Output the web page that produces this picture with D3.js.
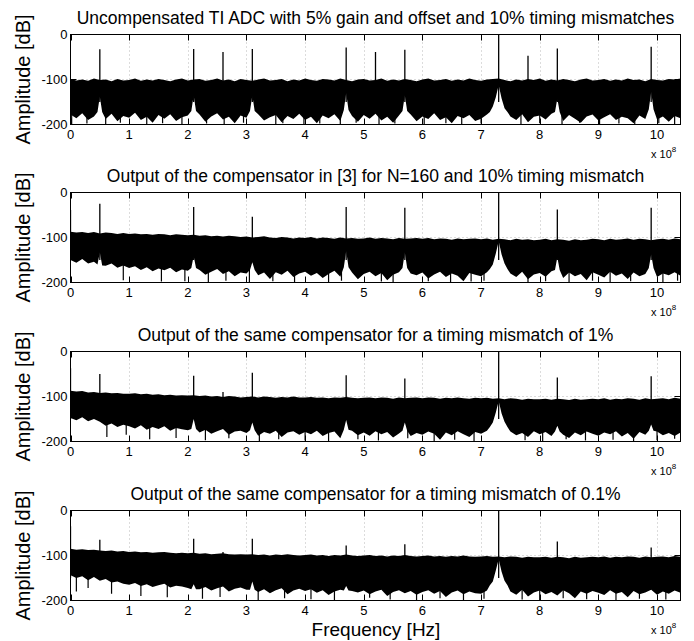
<!DOCTYPE html>
<html>
<head>
<meta charset="utf-8">
<script src="https://cdn.jsdelivr.net/npm/d3@7"></script>
<style>
  html, body { margin: 0; padding: 0; background: #fff; }
  svg { display: block; font-family: "Liberation Sans", Arial, Helvetica, sans-serif; }
</style>
</head>
<body>
<svg id="chart" width="694" height="641"></svg>
<script>
// Frequency axis in units of 1e8 Hz, amplitude in dB.
const xTicks = [0, 1, 2, 3, 4, 5, 6, 7, 8, 9, 10];
const yTicks = [0, -100, -200];
const xMax = 10.4;

const titles = [
  "Uncompensated TI ADC with 5% gain and offset and 10% timing mismatches",
  "Output of the compensator in [3] for N=160 and 10% timing mismatch",
  "Output of the same compensator for a timing mismatch of 1%",
  "Output of the same compensator for a timing mismatch of 0.1%"
];

// Upper edge of the noise floor, sampled every 0.1e8 Hz from 0 to 10.4e8 Hz.
const floorTop1 = [
  -99,-102,-100,-103,-98,-101,-100,-104,-99,-102,
  -101,-98,-103,-100,-102,-99,-101,-104,-100,-98,
  -102,-100,-99,-103,-101,-98,-102,-100,-104,-99,
  -101,-103,-100,-98,-102,-101,-99,-104,-100,-102,
  -98,-101,-103,-99,-100,-102,-98,-101,-104,-100,
  -99,-102,-101,-98,-103,-100,-102,-99,-101,-104,
  -100,-98,-102,-101,-99,-103,-100,-102,-98,-101,
  -103,-100,-99,-98,-101,-104,-100,-102,-99,-101,
  -98,-103,-100,-102,-99,-101,-104,-100,-98,-102,
  -101,-99,-103,-100,-102,-98,-101,-100,-104,-99,
  -101,-102,-99,-100,-98
];
const floorTop2 = [
  -87,-89,-88,-90,-88,-91,-89,-90,-92,-90,
  -92,-91,-93,-92,-94,-92,-93,-95,-93,-94,
  -95,-94,-96,-95,-97,-96,-98,-96,-97,-99,
  -98,-100,-99,-97,-100,-101,-99,-100,-102,-100,
  -101,-99,-102,-100,-101,-103,-100,-102,-101,-103,
  -102,-100,-103,-101,-102,-104,-101,-103,-102,-101,
  -103,-101,-104,-102,-103,-105,-102,-104,-103,-102,
  -104,-102,-105,-103,-104,-106,-103,-105,-104,-106,
  -105,-103,-106,-104,-105,-107,-104,-106,-105,-103,
  -104,-106,-103,-105,-104,-102,-105,-103,-104,-106,
  -104,-103,-105,-102,-104
];
const floorTop3 = [
  -87,-89,-88,-91,-90,-92,-91,-93,-92,-94,
  -94,-93,-95,-94,-96,-95,-97,-96,-98,-97,
  -98,-97,-99,-98,-100,-99,-101,-99,-100,-102,
  -101,-100,-102,-100,-101,-103,-101,-102,-100,-102,
  -102,-101,-103,-102,-104,-102,-103,-101,-103,-104,
  -103,-102,-104,-102,-103,-105,-102,-104,-103,-102,
  -104,-102,-103,-105,-103,-104,-102,-104,-105,-103,
  -104,-103,-105,-104,-106,-104,-105,-107,-105,-106,
  -106,-105,-107,-105,-106,-108,-105,-107,-106,-105,
  -106,-104,-107,-105,-106,-104,-105,-107,-104,-106,
  -105,-104,-106,-103,-105
];
const floorTop4 = [
  -85,-87,-86,-88,-87,-89,-90,-89,-91,-90,
  -92,-91,-93,-92,-94,-93,-92,-94,-95,-94,
  -95,-94,-96,-95,-97,-96,-95,-97,-98,-97,
  -98,-97,-99,-98,-100,-98,-99,-97,-99,-100,
  -99,-98,-100,-99,-101,-99,-100,-98,-100,-101,
  -100,-99,-101,-100,-102,-100,-101,-99,-101,-102,
  -101,-100,-102,-101,-103,-101,-102,-100,-102,-103,
  -102,-101,-103,-102,-104,-102,-103,-105,-103,-104,
  -104,-103,-105,-103,-104,-106,-103,-105,-104,-103,
  -104,-102,-105,-103,-104,-102,-103,-105,-102,-104,
  -103,-102,-104,-101,-103
];

// Lower edge of the noise floor on the same 0.1e8 Hz grid.
const floorBottom1 = [
  -178,-186,-175,-190,-182,-180,-188,-176,-193,-181,
  -185,-174,-190,-183,-196,-179,-187,-177,-192,-184,
  -180,-186,-178,-194,-182,-175,-189,-183,-197,-180,
  -185,-182,-177,-191,-184,-179,-195,-181,-188,-176,
  -190,-183,-197,-180,-186,-177,-192,-185,-181,-194,
  -179,-187,-176,-191,-183,-196,-180,-185,-178,-193,
  -182,-188,-175,-190,-184,-197,-181,-186,-179,-192,
  -187,-178,-160,-112,-164,-182,-190,-177,-195,-183,
  -180,-189,-176,-185,-192,-179,-187,-196,-182,-178,
  -191,-184,-177,-190,-183,-186,-197,-180,-188,-175,
  -189,-182,-194,-181,-186
];
const floorBottom2 = [
  -150,-156,-148,-158,-154,-160,-163,-158,-167,-162,
  -168,-164,-172,-166,-175,-169,-173,-167,-177,-171,
  -174,-179,-172,-183,-176,-170,-181,-175,-186,-178,
  -180,-175,-184,-178,-192,-177,-183,-174,-188,-180,
  -176,-185,-179,-190,-181,-174,-187,-182,-178,-193,
  -181,-176,-186,-179,-195,-183,-177,-189,-180,-184,
  -178,-191,-182,-176,-188,-180,-185,-197,-179,-183,
  -186,-177,-160,-108,-158,-180,-188,-176,-193,-182,
  -179,-187,-175,-184,-190,-178,-186,-181,-195,-177,
  -183,-189,-176,-185,-180,-192,-178,-186,-181,-175,
  -188,-180,-184,-177,-185
];
const floorBottom3 = [
  -148,-153,-146,-155,-150,-156,-165,-160,-168,-163,
  -166,-171,-164,-174,-168,-172,-166,-176,-170,-173,
  -175,-171,-180,-174,-183,-177,-172,-185,-178,-176,
  -181,-175,-187,-179,-183,-176,-190,-180,-177,-185,
  -179,-184,-176,-188,-181,-178,-193,-182,-176,-186,
  -180,-187,-177,-184,-179,-191,-182,-176,-188,-181,
  -185,-178,-183,-196,-180,-186,-177,-184,-190,-179,
  -183,-176,-158,-110,-156,-178,-186,-181,-190,-177,
  -184,-179,-188,-176,-185,-192,-180,-186,-178,-183,
  -187,-180,-184,-177,-189,-181,-194,-179,-185,-182,
  -178,-186,-181,-188,-180
];
const floorBottom4 = [
  -144,-150,-146,-155,-148,-156,-152,-160,-158,-163,
  -165,-161,-168,-164,-170,-166,-163,-171,-167,-169,
  -172,-168,-175,-170,-178,-173,-169,-180,-174,-171,
  -176,-172,-181,-175,-184,-177,-173,-186,-178,-174,
  -179,-175,-183,-177,-188,-180,-176,-185,-179,-182,
  -178,-186,-180,-176,-190,-181,-177,-184,-179,-187,
  -181,-177,-185,-179,-192,-182,-178,-186,-180,-184,
  -185,-178,-158,-108,-156,-180,-187,-176,-191,-182,
  -178,-186,-181,-189,-177,-184,-195,-180,-185,-179,
  -183,-188,-177,-185,-181,-193,-179,-186,-182,-176,
  -187,-180,-185,-178,-183
];

// Leakage skirts that lift the lower edge around the tones: [freq (1e8 Hz), dB].
const skirts1 = [
  [0.46,-172],[0.5,-138],[0.54,-172],
  [2.06,-170],[2.1,-135],[2.14,-170],
  [3.06,-170],[3.1,-135],[3.14,-170],
  [4.66,-168],[4.7,-130],[4.74,-168],
  [5.66,-170],[5.7,-135],[5.74,-170],
  [7.15,-172],[7.25,-140],[7.35,-142],[7.45,-172],
  [8.26,-172],[8.3,-142],[8.34,-172],
  [9.86,-166],[9.9,-127],[9.94,-166]
];
const skirts2 = [
  [0.46,-160],[0.5,-133],[0.54,-162],
  [2.06,-168],[2.1,-141],[2.14,-168],
  [3.06,-172],[3.1,-155],[3.14,-172],
  [4.66,-166],[4.7,-130],[4.74,-166],
  [5.66,-168],[5.7,-133],[5.74,-168],
  [7.15,-170],[7.25,-136],[7.35,-138],[7.45,-170],
  [8.26,-172],[8.3,-144],[8.34,-172],
  [9.86,-168],[9.9,-137],[9.94,-168]
];
const skirts3 = [
  [2.06,-172],[2.1,-150],[2.14,-172],
  [3.06,-175],[3.1,-158],[3.14,-175],
  [4.66,-174],[4.7,-152],[4.74,-174],
  [5.66,-176],[5.7,-158],[5.74,-176],
  [7.15,-168],[7.25,-136],[7.35,-138],[7.45,-168],
  [8.26,-178],[8.3,-165],[8.34,-178],
  [9.86,-176],[9.9,-162],[9.94,-176]
];
const skirts4 = [
  [2.06,-175],[2.1,-164],[2.14,-175],
  [3.06,-176],[3.1,-158],[3.14,-176],
  [4.66,-178],[4.7,-168],[4.74,-178],
  [7.15,-166],[7.25,-134],[7.35,-136],[7.45,-166]
];

// Deepest single bins reaching below the lower edge: [freq (1e8 Hz), dB].
const dips1 = [[0.02,-200],[0.28,-198],[0.6,-200],[0.85,-196],[1.3,-200],[1.57,-197],[1.9,-200],[2.32,-198],[2.62,-200],[2.95,-196],[3.5,-200],[3.62,-197],[3.98,-200],[4.25,-198],[4.6,-200],[4.87,-196],[5.26,-200],[5.53,-198],[6.03,-200],[6.4,-197],[6.67,-200],[7.0,-198],[7.68,-200],[8.0,-197],[8.38,-200],[8.68,-196],[9.02,-200],[9.35,-198],[9.62,-200],[10.03,-197],[10.3,-200]];
const dips2 = [[0.9,-195],[1.55,-198],[1.95,-197],[2.35,-200],[2.65,-196],[3.05,-200],[3.45,-197],[3.82,-199],[4.4,-200],[4.62,-196],[5.3,-198],[5.5,-200],[6.1,-197],[6.48,-200],[6.83,-198],[7.05,-196],[7.8,-200],[8.1,-197],[8.5,-199],[8.9,-196],[9.2,-200],[9.55,-197],[10.1,-199],[10.35,-196]];
const dips3 = [[0.62,-190],[0.95,-185],[1.35,-195],[1.8,-192],[2.3,-197],[2.7,-193],[3.22,-200],[3.55,-195],[4.0,-198],[4.4,-200],[4.9,-195],[5.25,-198],[5.75,-193],[6.2,-199],[6.55,-196],[6.88,-200],[7.75,-197],[8.05,-200],[8.45,-195],[8.78,-198],[9.25,-196],[9.6,-200],[10.0,-197],[10.3,-194]];
const dips4 = [[0.1,-180],[0.3,-172],[0.7,-185],[1.2,-190],[1.65,-193],[2.25,-196],[2.55,-192],[3.2,-200],[3.65,-195],[4.1,-197],[4.5,-199],[5.1,-194],[5.45,-198],[5.9,-200],[6.3,-195],[6.7,-199],[7.05,-196],[7.7,-198],[8.0,-200],[8.4,-195],[8.8,-197],[9.3,-199],[9.7,-196],[10.15,-198]];

// Tones and mismatch spurs: [freq (1e8 Hz), peak dB].
const spurs1 = [[0.5,-33],[2.1,-32],[2.6,-39],[3.1,-32],[4.7,-29],[5.2,-39],[5.7,-34],[7.3,0],[7.8,-47],[8.3,-31],[9.9,-27]];
const spurs2 = [[0,-39],[0.5,-25],[2.1,-32],[3.1,-54],[4.7,-32],[5.7,-34],[7.3,0],[8.3,-38],[9.9,-34]];
const spurs3 = [[0,-37],[0.5,-50],[2.1,-54],[2.6,-90],[3.1,-47],[4.7,-53],[5.7,-60],[7.3,0],[8.3,-58],[9.9,-55]];
const spurs4 = [[0,-35],[0.5,-65],[2.1,-63],[2.6,-92],[3.1,-63],[4.7,-78],[5.7,-75],[7.3,0],[8.3,-69],[9.9,-82]];

const panels = [
  { title: titles[0], top: floorTop1, bottom: floorBottom1, skirts: skirts1, dips: dips1, spurs: spurs1 },
  { title: titles[1], top: floorTop2, bottom: floorBottom2, skirts: skirts2, dips: dips2, spurs: spurs2 },
  { title: titles[2], top: floorTop3, bottom: floorBottom3, skirts: skirts3, dips: dips3, spurs: spurs3 },
  { title: titles[3], top: floorTop4, bottom: floorBottom4, skirts: skirts4, dips: dips4, spurs: spurs4 }
];

const svg = d3.select("#chart");
const left = 70.5, right = 680.5, plotH = 90;
const panelTops = [34.5, 192.5, 351.5, 510.5];
const tickLen = 6;

const x = d3.scaleLinear().domain([0, xMax]).range([left, right]);

panels.forEach((p, i) => {
  const top = panelTops[i], bottom = top + plotH;
  const y = d3.scaleLinear().domain([-200, 0]).range([bottom, top]);
  const g = svg.append("g");

  const clipId = "clip" + i;
  svg.append("clipPath").attr("id", clipId)
    .append("rect").attr("x", left).attr("y", top).attr("width", right - left).attr("height", plotH);

  // dotted grid
  const grid = g.append("g").attr("stroke", "#b8b8b8").attr("stroke-width", 1)
    .attr("stroke-dasharray", "1,3");
  grid.selectAll("line.gx").data(xTicks.slice(1)).join("line")
    .attr("x1", d => Math.round(x(d)) + 0.5).attr("x2", d => Math.round(x(d)) + 0.5)
    .attr("y1", top).attr("y2", bottom);
  grid.selectAll("line.gy").data([-100]).join("line")
    .attr("x1", left).attr("x2", right).attr("y1", d => y(d)).attr("y2", d => y(d));

  const plot = g.append("g").attr("clip-path", `url(#${clipId})`);

  const gridPts = p.top.map((v, k) => ({ f: k / 10, v }));
  // black band from the upper edge of the noise floor down to the axis
  plot.append("path")
    .datum(gridPts)
    .attr("fill", "#000")
    .attr("d", d3.area().x(d => x(d.f)).y0(bottom).y1(d => y(d.v)));

  // white region below the lower edge (grid samples merged with skirt samples)
  const skirtF = new Set(p.skirts.map(s => s[0].toFixed(2)));
  const lowPts = p.bottom.map((v, k) => ({ f: k / 10, v }))
    .filter(d => !skirtF.has(d.f.toFixed(2)))
    .concat(p.skirts.map(s => ({ f: s[0], v: s[1] })))
    .sort((a, b) => a.f - b.f);
  plot.append("path")
    .datum(lowPts)
    .attr("fill", "#fff")
    .attr("d", d3.area().x(d => x(d.f)).y0(bottom + 2).y1(d => y(d.v)));

  // deep single bins, drawn down from inside the band
  plot.selectAll("line.dip").data(p.dips).join("line")
    .attr("x1", d => x(d[0])).attr("x2", d => x(d[0]))
    .attr("y1", y(-125)).attr("y2", d => y(d[1]))
    .attr("stroke", "#000").attr("stroke-width", 1.2);

  // spur / tone lines
  plot.selectAll("line.spur").data(p.spurs).join("line")
    .attr("x1", d => x(d[0])).attr("x2", d => x(d[0]))
    .attr("y1", y(-150)).attr("y2", d => y(d[1]))
    .attr("stroke", "#000").attr("stroke-width", 1.3);

  // axes box
  g.append("rect").attr("x", left).attr("y", top).attr("width", right - left).attr("height", plotH)
    .attr("fill", "none").attr("stroke", "#000").attr("stroke-width", 1);

  // inward ticks
  const ticks = g.append("g").attr("stroke", "#000").attr("stroke-width", 1);
  xTicks.forEach(t => {
    const xx = Math.round(x(t)) + 0.5;
    ticks.append("line").attr("x1", xx).attr("x2", xx).attr("y1", top).attr("y2", top + tickLen);
    ticks.append("line").attr("x1", xx).attr("x2", xx).attr("y1", bottom).attr("y2", bottom - tickLen);
  });
  yTicks.forEach(t => {
    ticks.append("line").attr("x1", left).attr("x2", left + tickLen).attr("y1", y(t)).attr("y2", y(t));
    ticks.append("line").attr("x1", right).attr("x2", right - tickLen).attr("y1", y(t)).attr("y2", y(t));
  });

  // tick labels
  g.selectAll("text.xt").data(xTicks).join("text")
    .attr("x", d => x(d)).attr("y", bottom + 14)
    .attr("text-anchor", "middle").attr("font-size", 13).text(d => d);
  g.selectAll("text.yt").data(yTicks).join("text")
    .attr("x", left - 3).attr("y", d => y(d))
    .attr("dy", "0.35em").attr("text-anchor", "end").attr("font-size", 13).text(d => d);

  // exponent note
  const ex = g.append("text").attr("x", 651).attr("y", bottom + 33.5).attr("font-size", 11);
  ex.append("tspan").text("x 10");
  ex.append("tspan").attr("dy", -6).attr("font-size", 8).text("8");

  // title
  g.append("text").attr("x", (left + right) / 2).attr("y", top - 10.5)
    .attr("text-anchor", "middle").attr("font-size", 17.5).text(p.title);

  // y label
  g.append("text")
    .attr("transform", `translate(30,${(top + bottom) / 2}) rotate(-90)`)
    .attr("text-anchor", "middle").attr("font-size", 20).text("Amplitude [dB]");
});

svg.append("text").attr("x", 376).attr("y", 635.5)
  .attr("text-anchor", "middle").attr("font-size", 19).text("Frequency [Hz]");
</script>
</body>
</html>
